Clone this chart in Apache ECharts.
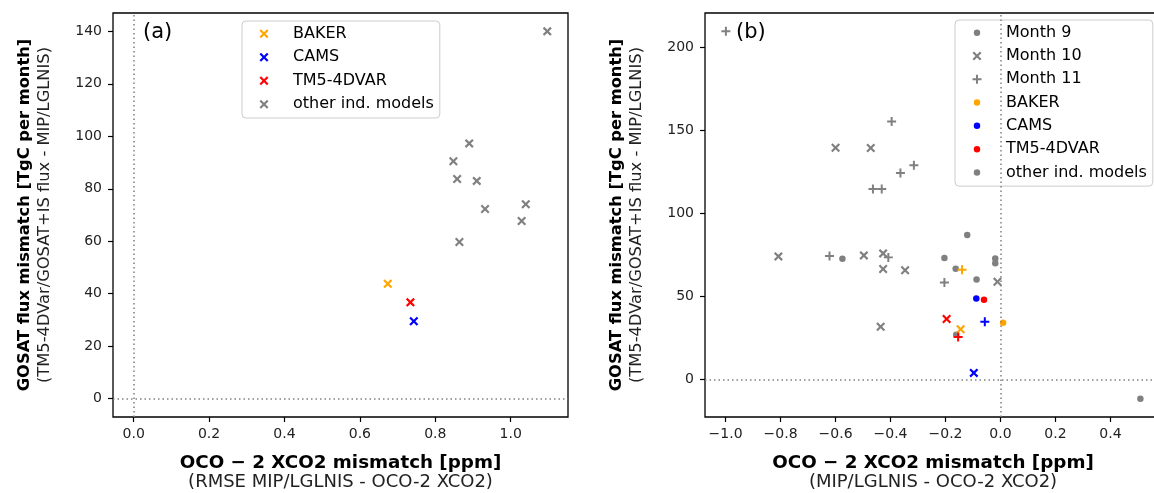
<!DOCTYPE html>
<html>
<head>
<meta charset="utf-8">
<script src="https://cdn.jsdelivr.net/npm/echarts@6/dist/echarts.min.js"></script>
<style>
html,body{margin:0;padding:0;background:#fff;}
#c{width:1154px;height:493px;}
</style>
</head>
<body>
<div id="c"></div>
<script>
// ---------- Panel (a) data: [RMSE XCO2 mismatch, GOSAT flux mismatch] ----------
const aBaker = [[0.674, 43.8]];
const aCams = [[0.743, 29.5]];
const aTm5 = [[0.734, 36.7]];
const aOther = [[1.097, 140.0], [0.890, 97.3], [0.848, 90.5], [0.858, 83.7], [0.910, 83.0],
                [0.932, 72.3], [1.040, 74.1], [1.029, 67.7], [0.864, 59.7]];

// ---------- Panel (b) data: [XCO2 mismatch, GOSAT flux mismatch] ----------
const bOtherM9 = [[-0.575, 72.8], [-0.121, 87.1], [-0.204, 73.2], [-0.163, 66.7], [-0.087, 60.3],
                  [-0.019, 72.9], [-0.019, 70.0], [-0.161, 27.0], [0.509, -11.4]];
const bOtherM10 = [[-0.600, 139.6], [-0.472, 139.4], [-0.808, 74.2], [-0.497, 74.8], [-0.427, 76.0],
                   [-0.427, 66.6], [-0.347, 65.8], [-0.436, 31.8], [-0.011, 58.9]];
const bOtherM11 = [[-0.999, 209.6], [-0.396, 155.4], [-0.315, 129.0], [-0.364, 124.4], [-0.464, 114.8],
                   [-0.432, 114.8], [-0.622, 74.4], [-0.408, 73.6], [-0.204, 58.5]];
const bBakerM9 = [[0.0095, 34.3]];
const bBakerM10 = [[-0.145, 30.4]];
const bBakerM11 = [[-0.140, 66.1]];
const bCamsM9 = [[-0.088, 48.8]];
const bCamsM10 = [[-0.097, 4.1]];
const bCamsM11 = [[-0.057, 34.8]];
const bTm5M9 = [[-0.060, 48.1]];
const bTm5M10 = [[-0.196, 36.5]];
const bTm5M11 = [[-0.154, 25.7]];

// ---------- tick labels ----------
const aXTicks = [0, 0.2, 0.4, 0.6, 0.8, 1.0];
const aYTicks = [0, 20, 40, 60, 80, 100, 120, 140];
const bXTicks = [-1.0, -0.8, -0.6, -0.4, -0.2, 0, 0.2, 0.4];
const bYTicks = [0, 50, 100, 150, 200];

const legendA = ['BAKER', 'CAMS', 'TM5-4DVAR', 'other ind. models'];
const legendB = ['Month 9', 'Month 10', 'Month 11', 'BAKER', 'CAMS', 'TM5-4DVAR', 'other ind. models'];

// ---------- styling ----------
const FONT = 'DejaVu Sans';
const C_BAKER = '#FFA500', C_CAMS = '#0000FF', C_TM5 = '#FF0000', C_GRAY = '#808080';
const pX = 'M0,-1.7 L3.3,-5 L5,-3.3 L1.7,0 L5,3.3 L3.3,5 L0,1.7 L-3.3,5 L-5,3.3 L-1.7,0 L-5,-3.3 L-3.3,-5 Z';
const pPlus = 'M-1.1,-5 L1.1,-5 L1.1,-1.1 L5,-1.1 L5,1.1 L1.1,1.1 L1.1,5 L-1.1,5 L-1.1,1.1 L-5,1.1 L-5,-1.1 L-1.1,-1.1 Z';
const pDot = 'M-3.6,0 A3.6,3.6 0 1,0 3.6,0 A3.6,3.6 0 1,0 -3.6,0 Z';
const symX = 'path://' + pX;
const symPlus = 'path://' + pPlus;
// legend icons: marker at the left of a 31.7 x 10 box (two invisible specks fix the box)
const box = 'M-5,-5 L-4.99,-5 L-5,-4.99 Z M26.7,5 L26.69,5 L26.7,4.99 Z ';
const iconX = 'path://' + box + pX;
const iconPlus = 'path://' + box + pPlus;
const iconDot = 'path://' + box + pDot;
const SZ = { x: 9, plus: 9, dot: 6.5 };

function fmt(v) {
  const s = Math.abs(v).toFixed(1);
  return (v < -1e-9 ? '\u2212' : '') + s;
}
const xNameRich = {
  b: { fontFamily: FONT, fontWeight: 'bold', fontSize: 18.3, lineHeight: 19, color: '#000' },
  r: { fontFamily: FONT, fontSize: 18, lineHeight: 19, color: '#222' }
};
const yNameRich = {
  b: { fontFamily: FONT, fontWeight: 'bold', fontSize: 16.3, lineHeight: 20, color: '#000' },
  r: { fontFamily: FONT, fontSize: 16.3, lineHeight: 20, color: '#222' }
};

function xAxisCfg(gi, min, max, ticks, name) {
  return {
    type: 'value', gridIndex: gi, min: min, max: max,
    axisLine: { show: false, onZero: false },
    axisTick: { show: true, length: 5, lineStyle: { color: '#000', width: 1.2 }, customValues: ticks },
    axisLabel: { customValues: ticks, formatter: fmt, fontFamily: FONT, fontSize: 14, color: '#222', margin: 10 },
    splitLine: { show: false },
    name: name, nameLocation: 'middle', nameGap: 36.5,
    nameTextStyle: { color: '#000', rich: xNameRich }
  };
}
function yAxisCfg(gi, min, max, ticks) {
  return {
    type: 'value', gridIndex: gi, min: min, max: max,
    axisLine: { show: false, onZero: false },
    axisTick: { show: true, length: 5, lineStyle: { color: '#000', width: 1.2 }, customValues: ticks },
    axisLabel: { customValues: ticks, formatter: v => String(Math.round(v)), fontFamily: FONT, fontSize: 14, color: '#222', margin: 11 },
    splitLine: { show: false },
    name: '{b|GOSAT flux mismatch [TgC per month]}\n{r|(TM5-4DVar/GOSAT+IS flux - MIP/LGLNIS)}',
    nameLocation: 'middle', nameGap: 58, nameRotate: 90,
    nameTextStyle: { color: '#000', rich: yNameRich }
  };
}
function scat(name, gi, data, symbol, color, size, z) {
  return {
    type: 'scatter', name: name, xAxisIndex: gi, yAxisIndex: gi, data: data,
    symbol: symbol, symbolSize: size, symbolKeepAspect: true,
    itemStyle: { color: color, opacity: 1 }, z: z || 2,
    emphasis: { disabled: true }, silent: true
  };
}
const zeroLines = {
  symbol: 'none', silent: true, animation: false,
  label: { show: false },
  lineStyle: { color: C_GRAY, type: [1.5, 3], width: 1.5 },
  data: [{ xAxis: 0 }, { yAxis: 0 }]
};
function legendCfg(left, top, names, icons, lh) {
  return {
    orient: 'vertical', left: left, top: top,
    data: names.map((n, i) => ({ name: n, icon: icons[i] })),
    itemWidth: 28.53, itemHeight: 9, itemGap: 0, symbolKeepAspect: true,
    textStyle: { fontFamily: FONT, fontSize: 16, lineHeight: lh, color: '#000' },
    padding: [1, 6, 2, 17.5],
    backgroundColor: 'rgba(255,255,255,0.8)', borderColor: '#cccccc', borderWidth: 1, borderRadius: 4,
    selectedMode: false
  };
}

const series = [];
// panel (a)
const sA = scat('other ind. models', 0, aOther, symX, C_GRAY, SZ.x, 2);
sA.markLine = zeroLines;
series.push(sA);
series.push(scat('BAKER', 0, aBaker, symX, C_BAKER, SZ.x, 3));
series.push(scat('CAMS', 0, aCams, symX, C_CAMS, SZ.x, 3));
series.push(scat('TM5-4DVAR', 0, aTm5, symX, C_TM5, SZ.x, 3));
// panel (b)
const sB = scat('Month 9', 1, bOtherM9, 'circle', C_GRAY, SZ.dot, 2);
sB.markLine = zeroLines;
series.push(sB);
series.push(scat('Month 10', 1, bOtherM10, symX, C_GRAY, SZ.x, 2));
series.push(scat('Month 11', 1, bOtherM11, symPlus, C_GRAY, SZ.plus, 2));
series.push(scat('BAKER', 1, bBakerM9, 'circle', C_BAKER, SZ.dot, 3));
series.push(scat('BAKER', 1, bBakerM10, symX, C_BAKER, SZ.x, 3));
series.push(scat('BAKER', 1, bBakerM11, symPlus, C_BAKER, SZ.plus, 3));
series.push(scat('CAMS', 1, bCamsM9, 'circle', C_CAMS, SZ.dot, 3));
series.push(scat('CAMS', 1, bCamsM10, symX, C_CAMS, SZ.x, 3));
series.push(scat('CAMS', 1, bCamsM11, symPlus, C_CAMS, SZ.plus, 3));
series.push(scat('TM5-4DVAR', 1, bTm5M9, 'circle', C_TM5, SZ.dot, 3));
series.push(scat('TM5-4DVAR', 1, bTm5M10, symX, C_TM5, SZ.x, 3));
series.push(scat('TM5-4DVAR', 1, bTm5M11, symPlus, C_TM5, SZ.plus, 3));

const chart = echarts.init(document.getElementById('c'), null, { renderer: 'canvas' });
chart.setOption({
  animation: false,
  backgroundColor: '#fff',
  grid: [
    { left: 113, top: 13, width: 455, height: 404, show: true, borderColor: '#000', borderWidth: 1.3,
      containLabel: false, outerBoundsMode: 'none' },
    { left: 705, top: 13, width: 456, height: 404, show: true, borderColor: '#000', borderWidth: 1.3,
      containLabel: false, outerBoundsMode: 'none' }
  ],
  xAxis: [
    xAxisCfg(0, -0.0548, 1.152, aXTicks, '{b|OCO \u2212 2 XCO2 mismatch [ppm]}\n{r|(RMSE MIP/LGLNIS - OCO-2 XCO2)}'),
    xAxisCfg(1, -1.075, 0.584, bXTicks, '{b|OCO \u2212 2 XCO2 mismatch [ppm]}\n{r|(MIP/LGLNIS - OCO-2 XCO2)}')
  ],
  yAxis: [
    yAxisCfg(0, -7, 147, aYTicks),
    yAxisCfg(1, -22.45, 220.65, bYTicks)
  ],
  legend: [
    legendCfg(242, 21, legendA, [iconX, iconX, iconX, iconX], 23.5),
    legendCfg(955, 20, legendB, [iconDot, iconX, iconPlus, iconDot, iconDot, iconDot, iconDot], 23.3)
  ],
  graphic: [
    { type: 'text', left: 143, top: 22, style: { text: '(a)', fontFamily: FONT, fontSize: 21, fill: '#000' } },
    { type: 'text', left: 736, top: 22, style: { text: '(b)', fontFamily: FONT, fontSize: 21, fill: '#000' } }
  ],
  series: series
});
</script>
</body>
</html>
